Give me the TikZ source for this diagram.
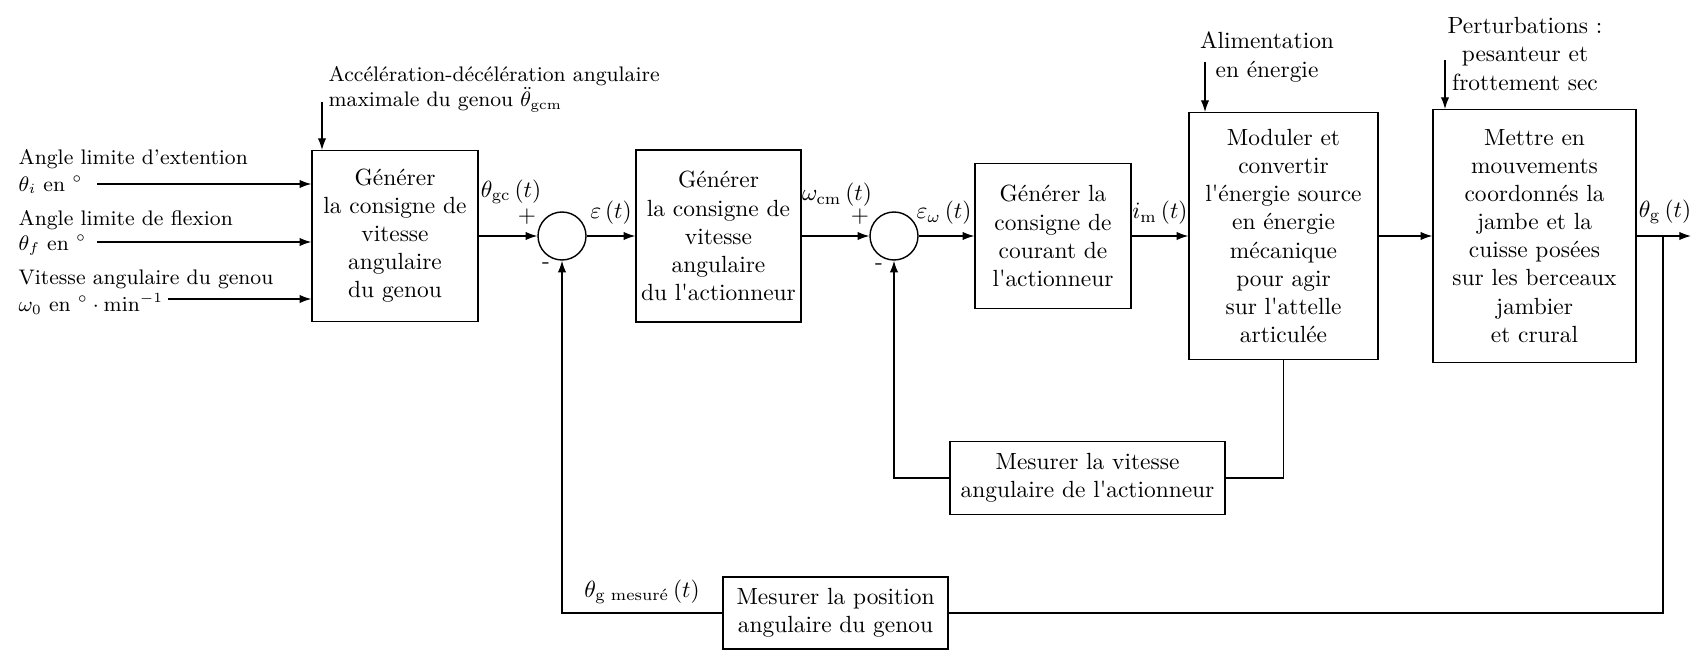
\documentclass[tikz,border=0pt]{standalone}
\usepackage{amsmath}
\usetikzlibrary{arrows.meta}
\def\pxu{0.42735pt}
\newcommand{\sq}{\textquotesingle}
\begin{document}
\begin{tikzpicture}[x=0.42735pt,y=-0.42735pt,
  >={Latex[length=5pt,width=3.6pt]}, line width=0.55pt,
  blk/.style={draw, rectangle, align=center, inner sep=0pt, line width=0.6pt},
  sumnode/.style={draw, circle, minimum size=48*\pxu, inner sep=0pt, line width=0.6pt},
  lbl/.style={inner sep=0pt},
  lbls/.style={inner sep=0pt, font=\small, anchor=west}]
\useasboundingbox (0,0) rectangle (1699,657);

% blocks
\node[blk, minimum width=166*\pxu, minimum height=171*\pxu] (b1) at (395,236)
  {Générer\\la consigne de\\vitesse\\angulaire\\du genou};
\node[sumnode] (s1) at (562,236) {};
\node[blk, minimum width=165*\pxu, minimum height=172*\pxu] (b2) at (718.5,236)
  {Générer\\la consigne de\\vitesse\\angulaire\\du l\sq actionneur};
\node[sumnode] (s2) at (894,236) {};
\node[blk, minimum width=156*\pxu, minimum height=145*\pxu] (b3) at (1053,236)
  {Générer la\\consigne de\\courant de\\l\sq actionneur};
\node[blk, minimum width=189*\pxu, minimum height=247*\pxu] (b4) at (1283.5,236)
  {Moduler et\\convertir\\l\sq énergie source\\en énergie\\mécanique\\pour agir\\sur l\sq attelle\\articulée};
\node[blk, minimum width=203*\pxu, minimum height=253*\pxu] (b5) at (1534.5,236)
  {Mettre en\\mouvements\\coordonnés la\\jambe et la\\cuisse posées\\sur les berceaux\\jambier\\et crural};
\node[blk, minimum width=275*\pxu, minimum height=73*\pxu] (m1) at (1087.5,478)
  {Mesurer la vitesse\\angulaire de l\sq actionneur};
\node[blk, minimum width=225*\pxu, minimum height=72*\pxu] (m2) at (835.5,613)
  {Mesurer la position\\angulaire du genou};

% input labels
\node[lbls] (l1a) at (18,159) {Angle limite d'extention};
\node[lbls] (l1b) at (18,185) {$\theta_i$ en $^\circ$};
\node[lbls] (l2a) at (18,220) {Angle limite de flexion};
\node[lbls] (l2b) at (18,245) {$\theta_f$ en $^\circ$};
\node[lbls] (l3a) at (18,279) {Vitesse angulaire du genou};
\node[lbls] (l3b) at (18,304) {$\omega_0$ en $^\circ\cdot\mathrm{min}^{-1}$};
\coordinate (i1) at (97,184);
\coordinate (i2) at (97,242);
\coordinate (i3) at (168,299);
\draw[->] (i1) -- (b1.west |- i1);
\draw[->] (i2) -- (b1.west |- i2);
\draw[->] (i3) -- (b1.west |- i3);

% top inputs
\node[lbls, align=left] (acc) at (328,89)
  {Accélération-décélération angulaire\\maximale du genou $\ddot{\theta}_{\mathrm{gcm}}$};
\coordinate (acc0) at (322,102);
\coordinate (acc1) at (322,150);
\draw[->] (acc0) -- (acc1);

\node[lbl, align=center] (alim) at (1267,57) {Alimentation\\en énergie};
\coordinate (al0) at (1205,62);
\coordinate (al1) at (1205,112);
\draw[->] (al0) -- (al1);

\node[lbl, align=center] (pert) at (1525,54) {Perturbations :\\pesanteur et\\frottement sec};
\coordinate (pe0) at (1445,60);
\coordinate (pe1) at (1445,109);
\draw[->] (pe0) -- (pe1);

% main chain
\draw[->] (b1.east) -- (s1.west);
\draw[->] (s1.east) -- (b2.west);
\draw[->] (b2.east) -- (s2.west);
\draw[->] (s2.east) -- (b3.west);
\draw[->] (b3.east) -- (b4.west);
\draw[->] (b4.east) -- (b5.west);
\coordinate (out) at (1691,236);
\coordinate (br) at (1663,236);
\draw[->] (b5.east) -- (out);

% signal labels
\node[lbl] (t1) at (511,192) {$\theta_{\mathrm{gc}}\left(t\right)$};
\node[lbl] (p1) at (527,217) {+};
\node[lbl] (n1) at (546,266) {-};
\node[lbl] (t2) at (611,213) {$\varepsilon\left(t\right)$};
\node[lbl] (t3) at (837,195) {$\omega_{\mathrm{cm}}\left(t\right)$};
\node[lbl] (p2) at (860,217) {+};
\node[lbl] (n2) at (879,267) {-};
\node[lbl] (t4) at (944,213) {$\varepsilon_{\omega}\left(t\right)$};
\node[lbl] (t5) at (1160,213) {$i_{\mathrm{m}}\left(t\right)$};
\node[lbl] (t6) at (1665,212) {$\theta_{\mathrm{g}}\left(t\right)$};
\node[lbl] (t7) at (642,592) {$\theta_{\text{g~mesuré}}\left(t\right)$};

% feedback loops
\draw (b4.south) |- (m1.east);
\draw[->] (m1.west) -| (s2.south);
\draw (br) |- (m2.east);
\draw[->] (m2.west) -| (s1.south);
\end{tikzpicture}
\end{document}
